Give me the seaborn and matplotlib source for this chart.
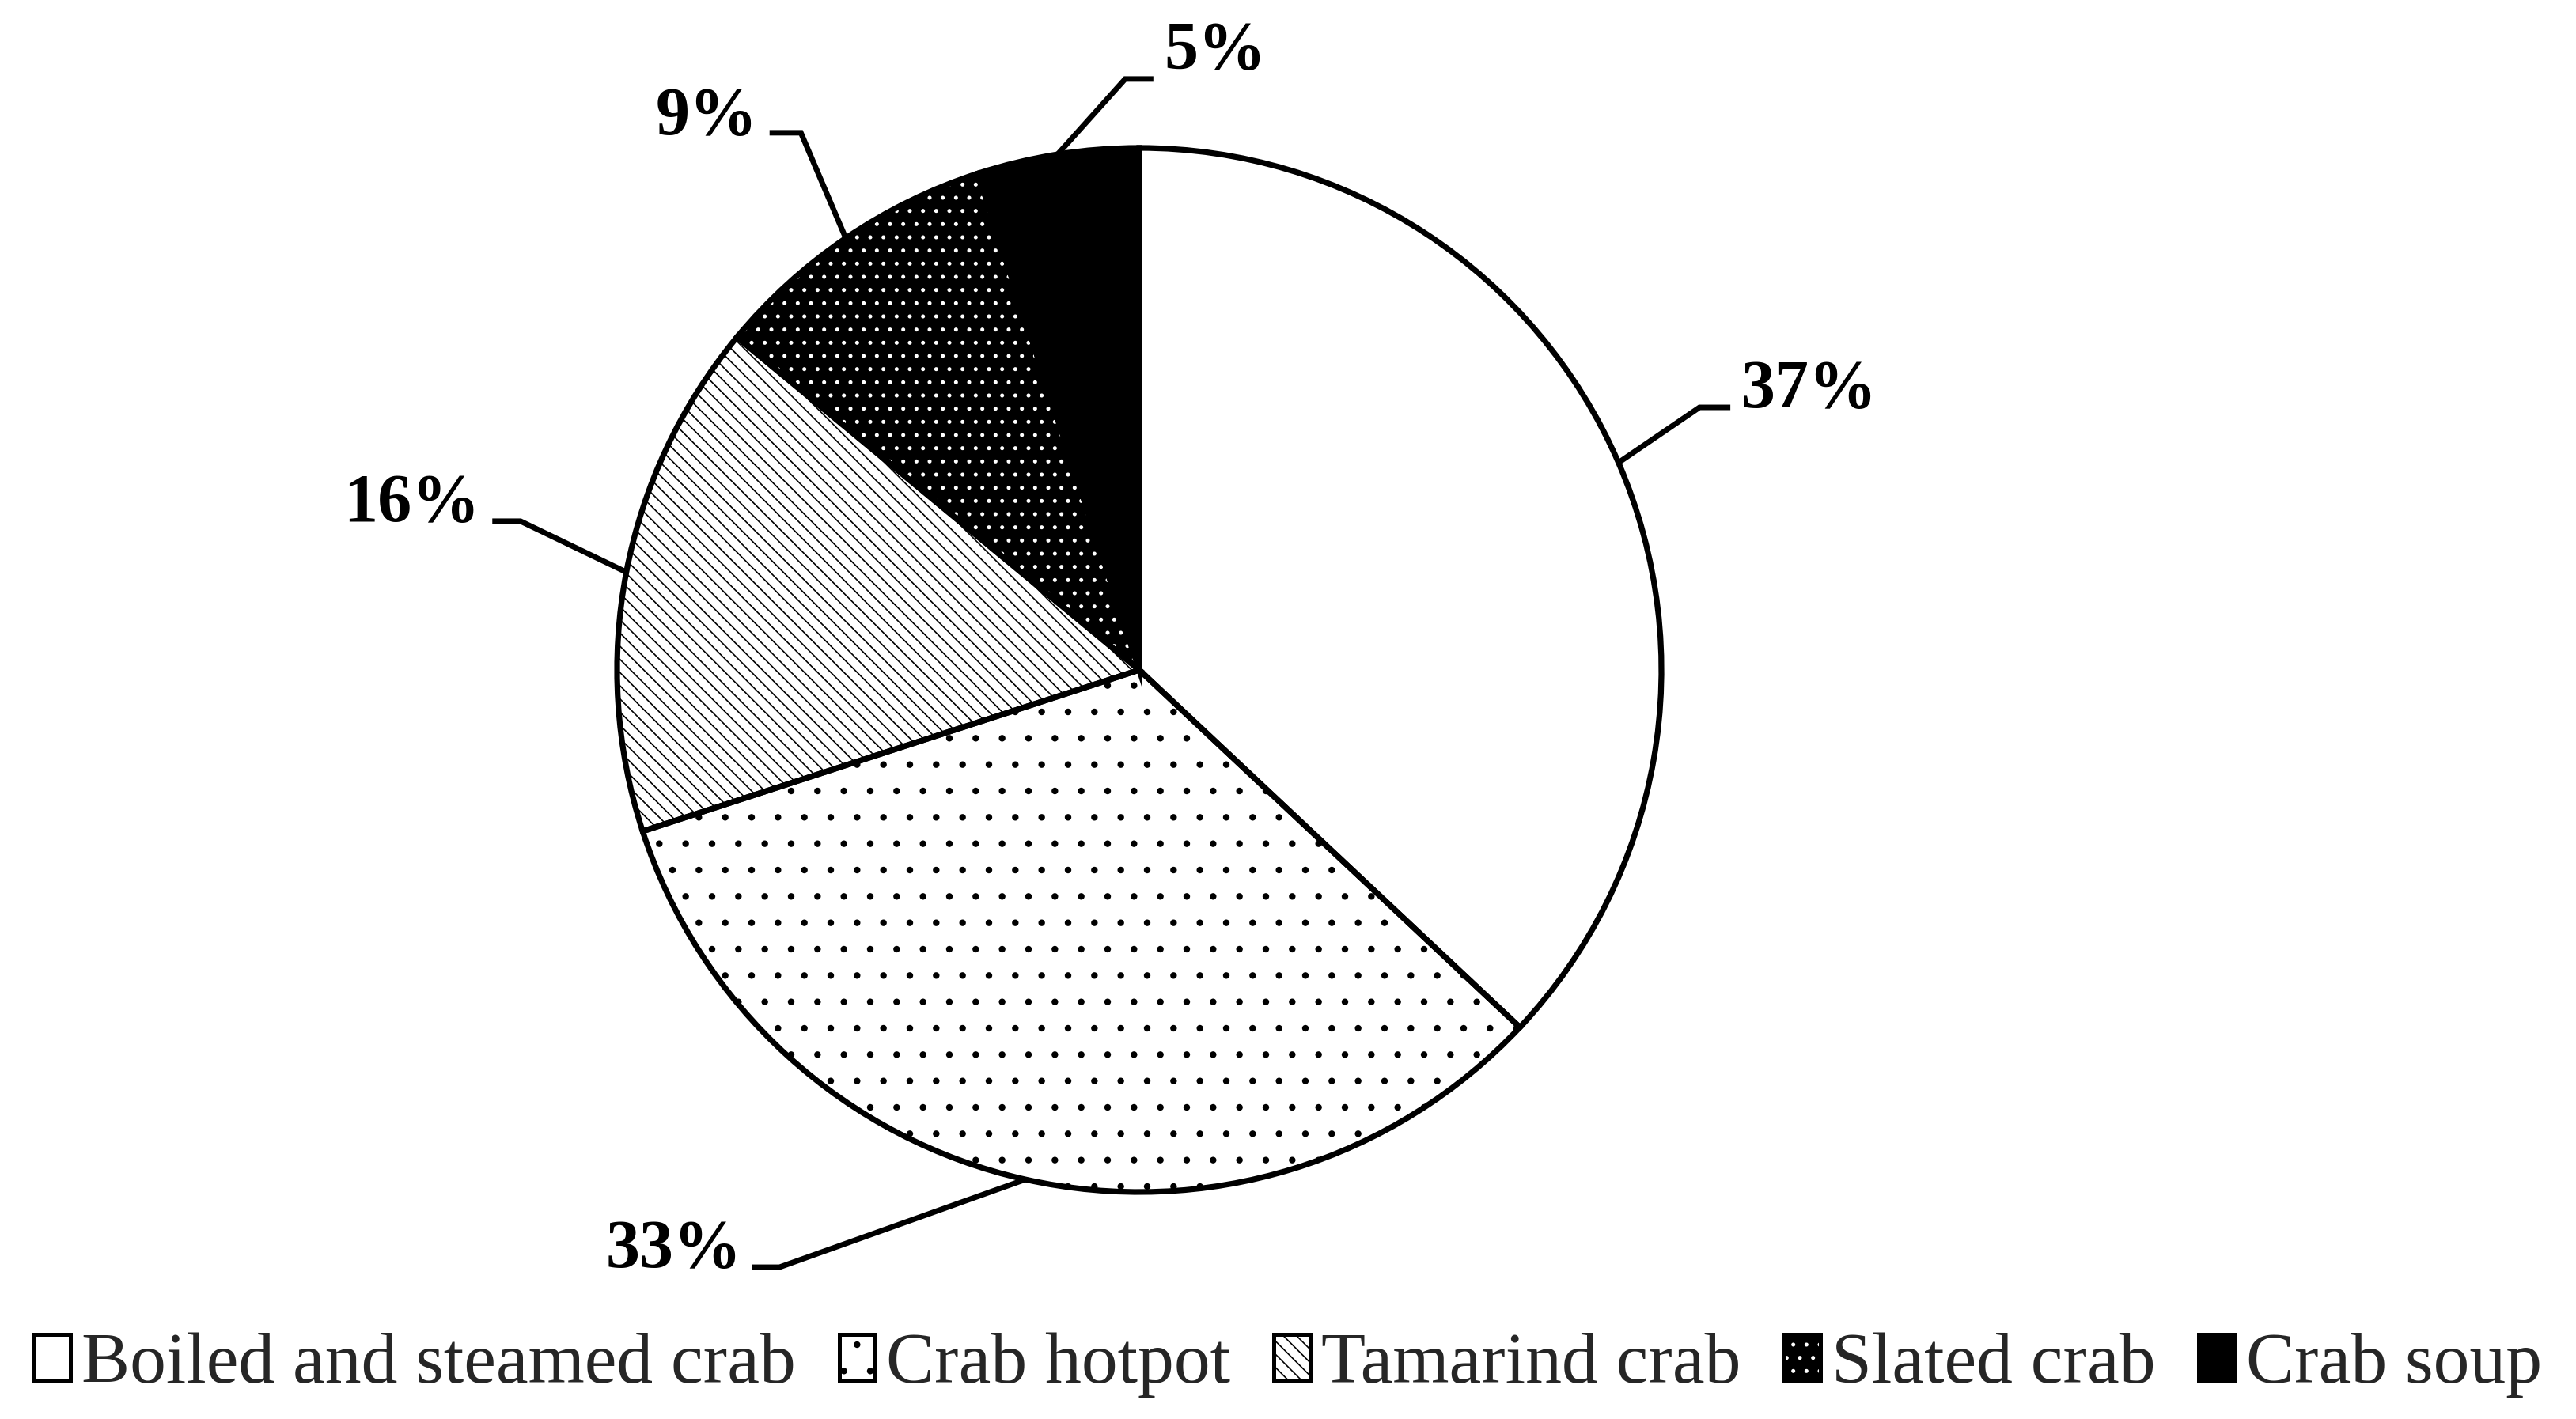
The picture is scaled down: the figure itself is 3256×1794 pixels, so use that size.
import numpy as np
import matplotlib
matplotlib.use("Agg")
import matplotlib.pyplot as plt
import seaborn as sns
from matplotlib.patches import Patch
from matplotlib.legend_handler import HandlerTuple

# ---- data ----
categories = ["Boiled and steamed crab", "Crab hotpot", "Tamarind crab", "Slated crab", "Crab soup"]
shares = [37, 33, 16, 9, 5]
pct_labels = ["37%", "33%", "16%", "9%", "5%"]

# ---- style ----
sns.set_theme(style="white")
plt.rcParams["font.family"] = ["Liberation Serif", "DejaVu Serif"]
plt.rcParams["hatch.linewidth"] = 0.6

faces = ["white", "white", "white", "black", "black"]
hatch_cols = ["black", "black", "black", "white", "black"]
hatches = ["", ".", "\\\\\\\\", "..", ""]

W, H, DPI = 3256, 1794, 200
fig = plt.figure(figsize=(W / DPI, H / DPI), dpi=DPI)
ax = fig.add_axes([0, 0, 1, 1])

R_PX, CX, CY = 660, 1440, 847

wedges, _ = ax.pie(shares, startangle=90, counterclock=False, radius=1,
                   center=(0, 0), wedgeprops=dict(linewidth=0))
for w, fc, hc, h in zip(wedges, faces, hatch_cols, hatches):
    w.set_facecolor(fc)
    w.set_edgecolor(hc)
    w.set_hatch(h)
    w.set_linewidth(0)

# outlines
ax.pie(shares, startangle=90, counterclock=False, radius=1, center=(0, 0),
       colors=["none"] * len(shares),
       wedgeprops=dict(facecolor="none", edgecolor="black", linewidth=2.6))

ax.set_aspect("auto")
ax.set_xlim(-CX / R_PX, (W - CX) / R_PX)
ax.set_ylim(-(H - CY) / R_PX, CY / R_PX)
ax.axis("off")

# leader lines + labels (positions are layout)
elbows = [(1.073, 0.503), (-0.689, -1.144), (-1.185, 0.285), (-0.648, 1.029), (-0.027, 1.132)]
ends = [(1.132, 0.503), (-0.741, -1.144), (-1.239, 0.285), (-0.708, 1.029), (0.027, 1.132)]
text_pos = [(1.152, 0.503, "left"), (-0.761, -1.144, "right"), (-1.262, 0.285, "right"),
            (-0.730, 1.026, "right"), (0.048, 1.152, "left")]

for w, el, en, tp, lab in zip(wedges, elbows, ends, text_pos, pct_labels):
    th = np.deg2rad((w.theta1 + w.theta2) / 2)
    ex, ey = np.cos(th), np.sin(th)
    ax.plot([ex, el[0], en[0]], [ey, el[1], en[1]], color="black", lw=2.5,
            solid_joinstyle="miter", solid_capstyle="butt")
    ax.text(tp[0], tp[1], lab, ha=tp[2], va="baseline", fontsize=31,
            fontweight="bold", color="black")

# legend
handles = []
for fc, hc, h in zip(faces, hatch_cols, hatches):
    fill = Patch(facecolor=fc, edgecolor=hc, hatch=h, linewidth=0)
    border = Patch(facecolor="none", edgecolor="black", linewidth=1.8)
    handles.append((fill, border))

fig.legend(handles, categories, loc="center", bbox_to_anchor=(0.5, 68 / H),
           ncol=5, frameon=False, fontsize=33, handlelength=0.5, handleheight=0.6,
           handletextpad=0.15, columnspacing=0.6, borderaxespad=0, borderpad=0,
           handler_map={tuple: HandlerTuple(ndivide=1, pad=0)})

fig.savefig("out.png", dpi=DPI, facecolor="white")
